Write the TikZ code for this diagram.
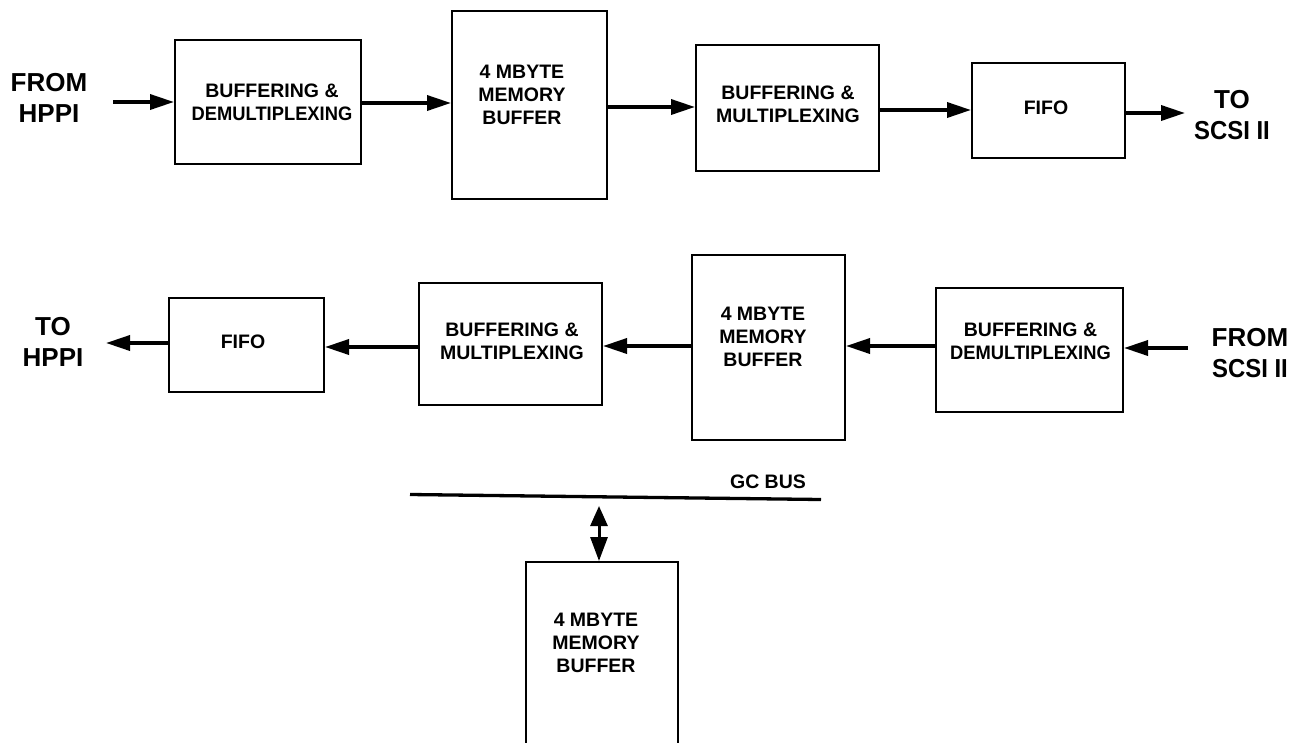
\documentclass[tikz,border=0pt]{standalone}
\usepackage{fontspec}
\setmainfont{Liberation Sans}
\usetikzlibrary{arrows.meta,calc}
\begin{document}
\begin{tikzpicture}[x=1pt,y=-1pt,
  blk/.style={draw,line width=2pt,inner sep=0pt,anchor=center},
  boxtxt/.style={font=\bfseries\fontsize{19.5}{23}\selectfont,align=center,inner sep=0pt},
  iolbl/.style={font=\bfseries\fontsize{26}{31}\selectfont,align=center,inner sep=0pt},
  flow/.style={line width=3.5pt,-{Triangle[length=24pt,width=15pt]}},
  bidir/.style={line width=3pt,{Triangle[length=20pt,width=17pt]}-{Triangle[length=24pt,width=17pt]},shorten <=9pt},
  bus/.style={line width=3.3pt}
]
\useasboundingbox (0,0) rectangle (1301,742);
\clip (0,0) rectangle (1301,742);

% ---- upper channel: HPPI to SCSI II ----
\node[iolbl] (inA) at (49,97.5) {FROM\\HPPI};
\node[blk,minimum width=186pt,minimum height=124pt] (b1) at (268,102) {};
\node[boxtxt] (b1t) at (272,102) {BUFFERING \&\\\scalebox{0.94}[1]{DEMULTIPLEXING}};
\node[blk,minimum width=155pt,minimum height=188pt] (m1) at (529.5,105) {};
\node[boxtxt] (m1t) at (522,95) {4 MBYTE\\MEMORY\\BUFFER};
\node[blk,minimum width=183pt,minimum height=126pt] (b2) at (787.5,108) {};
\node[boxtxt] (b2t) at (788,104) {BUFFERING \&\\MULTIPLEXING};
\node[blk,minimum width=153pt,minimum height=95pt] (f1) at (1048.5,110.5) {};
\node[boxtxt] (f1t) at (1046,107.5) {FIFO};
\node[iolbl] (outA) at (1232,115) {TO\\\scalebox{0.92}[1]{SCSI II}};
\coordinate (inAend) at (113,102);
\coordinate (outAend) at (1185,113);

\draw[flow] (inAend) -- (inAend -| b1.west);
\draw[flow] (b1.east |- 0,103) -- (m1.west |- 0,103);
\draw[flow] (m1.east |- 0,107) -- (b2.west |- 0,107);
\draw[flow] (b2.east |- 0,110) -- (f1.west |- 0,110);
\draw[flow] (f1.east |- outAend) -- (outAend);

% ---- lower channel: SCSI II to HPPI ----
\node[iolbl] (outB) at (53,342) {TO\\HPPI};
\node[blk,minimum width=155pt,minimum height=94pt] (f2) at (246.5,345) {};
\node[boxtxt] (f2t) at (243,341.5) {FIFO};
\node[blk,minimum width=183pt,minimum height=122pt] (b3) at (510.5,344) {};
\node[boxtxt] (b3t) at (512,341) {BUFFERING \&\\MULTIPLEXING};
\node[blk,minimum width=153pt,minimum height=185pt] (m2) at (768.5,347.5) {};
\node[boxtxt] (m2t) at (763,337) {4 MBYTE\\MEMORY\\BUFFER};
\node[blk,minimum width=187pt,minimum height=124pt] (b4) at (1029.5,350) {};
\node[boxtxt] (b4t) at (1030.5,341.5) {BUFFERING \&\\\scalebox{0.94}[1]{DEMULTIPLEXING}};
\node[iolbl] (inB) at (1250,353.5) {FROM\\\scalebox{0.92}[1]{SCSI II}};
\coordinate (outBend) at (106,343);
\coordinate (inBend) at (1188,348);

\draw[flow] (f2.west |- outBend) -- (outBend);
\draw[flow] (b3.west |- 0,347) -- (f2.east |- 0,347);
\draw[flow] (m2.west |- 0,346) -- (b3.east |- 0,346);
\draw[flow] (b4.west |- 0,346) -- (m2.east |- 0,346);
\draw[flow] (inBend) -- (inBend -| b4.east);

% ---- GC bus and shared buffer ----
\coordinate (busL) at (410,494.5);
\coordinate (busR) at (821,499.5);
\draw[bus] (busL) -- (busR);
\node[boxtxt] (gc) at (768,481.5) {GC BUS};
\node[blk,minimum width=152pt,minimum height=208pt] (m3) at (602,666) {};
\node[boxtxt] (m3t) at (596,642.5) {4 MBYTE\\MEMORY\\BUFFER};
\coordinate (tap) at (599,497);
\draw[bidir] (tap) -- (m3.north -| tap);
\end{tikzpicture}
\end{document}
